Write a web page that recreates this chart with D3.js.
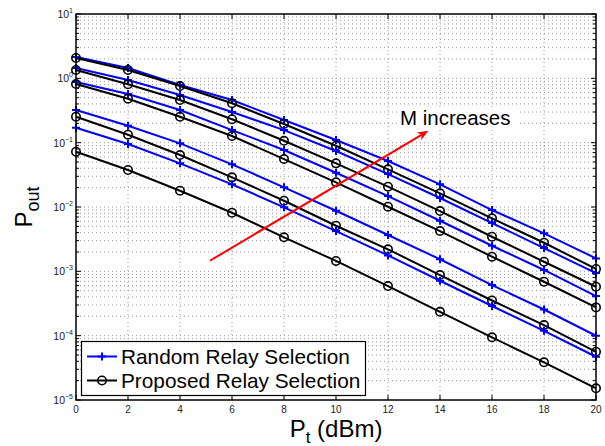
<!DOCTYPE html>
<html>
<head>
<meta charset="utf-8">
<script src="https://cdnjs.cloudflare.com/ajax/libs/d3/7.8.5/d3.min.js"></script>
<style>
body { margin: 0; background: #fff; }
svg { display: block; font-family: "Liberation Sans", Arial, Helvetica, sans-serif; }
</style>
</head>
<body>
<script>
// transmit power (dBm)
var ptValues = [0, 2, 4, 6, 8, 10, 12, 14, 16, 18, 20];

// random relay selection, top curve to bottom curve
var random1 = [2.14, 1.45, 0.787, 0.460, 0.225, 0.110, 0.0518, 0.0225, 8.97e-3, 3.90e-3, 1.59e-3];
var random2 = [1.45, 0.941, 0.550, 0.299, 0.157, 0.0741, 0.0325, 0.0138, 5.63e-3, 2.30e-3, 9.4e-4];
var random3 = [0.876, 0.570, 0.322, 0.157, 0.0768, 0.0341, 0.0148, 6.11e-3, 2.50e-3, 1.05e-3, 4.13e-4];
var random4 = [0.322, 0.183, 0.0977, 0.0461, 0.0202, 8.75e-3, 3.67e-3, 1.54e-3, 6.12e-4, 2.55e-4, 9.97e-5];
var random5 = [0.171, 0.0952, 0.0477, 0.0225, 9.88e-3, 4.23e-3, 1.77e-3, 7.14e-4, 2.89e-4, 1.19e-4, 4.70e-5];

// proposed relay selection, top curve to bottom curve
var proposed1 = [2.07, 1.35, 0.759, 0.409, 0.195, 0.0896, 0.0385, 0.0163, 6.67e-3, 2.78e-3, 1.09e-3];
var proposed2 = [1.35, 0.807, 0.460, 0.231, 0.107, 0.0477, 0.0207, 8.65e-3, 3.45e-3, 1.41e-3, 5.76e-4];
var proposed3 = [0.815, 0.482, 0.253, 0.127, 0.0556, 0.0242, 0.0101, 4.23e-3, 1.69e-3, 6.89e-4, 2.75e-4];
var proposed4 = [0.253, 0.133, 0.0642, 0.0289, 0.0125, 5.11e-3, 2.20e-3, 8.76e-4, 3.52e-4, 1.46e-4, 5.62e-5];
var proposed5 = [0.0723, 0.0376, 0.0179, 8.14e-3, 3.38e-3, 1.45e-3, 5.91e-4, 2.35e-4, 9.42e-5, 3.85e-5, 1.52e-5];

var yExponents = [1, 0, -1, -2, -3, -4, -5];
var legendLabels = ["Random Relay Selection", "Proposed Relay Selection"];

// arrow annotation, in data units
var arrowStart = [5.15, 1.46e-3];
var arrowEnd = [13.55, 0.153];
var annotationText = "M increases";
var annotationPos = [12.46, 0.188];

var width = 605, height = 446;
var margin = {top: 14, right: 9, bottom: 46, left: 76};

var svg = d3.select("body").append("svg")
    .attr("width", width)
    .attr("height", height);

var x = d3.scaleLinear().domain([0, 20]).range([margin.left, width - margin.right]);
var y = d3.scaleLog().domain([1e-5, 10]).range([height - margin.bottom, margin.top]);

var x0 = x.range()[0], x1 = x.range()[1], yb = y.range()[0], yt = y.range()[1];

// minor + major log tick values
var logTicks = [];
for (var k = -5; k <= 0; k++) {
    for (var m = 1; m <= 9; m++) logTicks.push(m * Math.pow(10, k));
}
logTicks.push(10);
var majorTicks = yExponents.map(function (e) { return Math.pow(10, e); });

// grid (dotted)
var grid = svg.append("g").attr("stroke", "#999").attr("stroke-width", 1)
    .attr("stroke-dasharray", "1,3");
grid.selectAll(".gx").data(ptValues.slice(1, -1)).enter().append("line")
    .attr("x1", function (d) { return x(d); }).attr("x2", function (d) { return x(d); })
    .attr("y1", yt).attr("y2", yb);
grid.selectAll(".gy").data(logTicks.slice(1, -1)).enter().append("line")
    .attr("x1", x0).attr("x2", x1)
    .attr("y1", function (d) { return y(d); }).attr("y2", function (d) { return y(d); });

// ticks, drawn inward on all four sides
var ticks = svg.append("g").attr("stroke", "#000").attr("stroke-width", 1);
ptValues.forEach(function (d) {
    ticks.append("line").attr("x1", x(d)).attr("x2", x(d)).attr("y1", yb).attr("y2", yb - 5);
    ticks.append("line").attr("x1", x(d)).attr("x2", x(d)).attr("y1", yt).attr("y2", yt + 5);
});
logTicks.forEach(function (d) {
    var len = majorTicks.indexOf(d) >= 0 ? 5 : 3;
    ticks.append("line").attr("x1", x0).attr("x2", x0 + len).attr("y1", y(d)).attr("y2", y(d));
    ticks.append("line").attr("x1", x1).attr("x2", x1 - len).attr("y1", y(d)).attr("y2", y(d));
});

// x tick labels
svg.append("g").selectAll("text").data(ptValues).enter().append("text")
    .attr("x", function (d) { return x(d); })
    .attr("y", yb + 13)
    .attr("text-anchor", "middle")
    .attr("font-size", 10)
    .attr("fill", "#222")
    .text(function (d) { return d; });

// y tick labels: 10 with superscript
var yLab = svg.append("g").selectAll("text").data(yExponents).enter().append("text")
    .attr("x", x0 - 3)
    .attr("y", function (d) { return y(Math.pow(10, d)) + 4; })
    .attr("text-anchor", "end")
    .attr("fill", "#222");
yLab.append("tspan").attr("font-size", 10.5).text("10");
yLab.append("tspan").attr("font-size", 7).attr("dy", -5)
    .text(function (d) { return d < 0 ? "\u2212" + (-d) : d; });

// curves
var line = d3.line()
    .x(function (d, i) { return x(ptValues[i]); })
    .y(function (d) { return y(d); });

var randomSeries = [random1, random2, random3, random4, random5];
var proposedSeries = [proposed1, proposed2, proposed3, proposed4, proposed5];

var plusPath = "M-4,0H4M0,-4V4";

function drawSeries(series, color, marker) {
    var g = svg.append("g");
    g.append("path").datum(series)
        .attr("d", line)
        .attr("fill", "none")
        .attr("stroke", color)
        .attr("stroke-width", 2);
    var pts = g.selectAll(".pt").data(series).enter();
    if (marker === "plus") {
        pts.append("path")
            .attr("transform", function (d, i) { return "translate(" + x(ptValues[i]) + "," + y(d) + ")"; })
            .attr("d", plusPath)
            .attr("stroke", color).attr("stroke-width", 2);
    } else {
        pts.append("circle")
            .attr("cx", function (d, i) { return x(ptValues[i]); })
            .attr("cy", function (d) { return y(d); })
            .attr("r", 4.2)
            .attr("fill", "none")
            .attr("stroke", color).attr("stroke-width", 1.6);
    }
}

for (var s = 0; s < 5; s++) {
    drawSeries(randomSeries[s], "#0000ff", "plus");
    drawSeries(proposedSeries[s], "#000", "circle");
}

// axes box
svg.append("rect")
    .attr("x", x0).attr("y", yt)
    .attr("width", x1 - x0).attr("height", yb - yt)
    .attr("fill", "none").attr("stroke", "#000").attr("stroke-width", 1.5);

// arrow annotation
var ax0 = x(arrowStart[0]), ay0 = y(arrowStart[1]);
var ax1 = x(arrowEnd[0]), ay1 = y(arrowEnd[1]);
var ang = Math.atan2(ay1 - ay0, ax1 - ax0);
svg.append("line")
    .attr("x1", ax0).attr("y1", ay0)
    .attr("x2", ax1 - 6 * Math.cos(ang)).attr("y2", ay1 - 6 * Math.sin(ang))
    .attr("stroke", "#ff0000").attr("stroke-width", 2);
var hl = 11, hw = 4.5;
function pt(along, side) {
    return [ax1 + along * Math.cos(ang) - side * Math.sin(ang),
            ay1 + along * Math.sin(ang) + side * Math.cos(ang)];
}
svg.append("path")
    .attr("d", "M" + pt(0, 0) + "L" + pt(-hl, hw) + "L" + pt(-hl * 0.7, 0) + "L" + pt(-hl, -hw) + "Z")
    .attr("fill", "#ff0000");

var tx = x(annotationPos[0]), ty = y(annotationPos[1]);
svg.append("rect")
    .attr("x", tx - 3).attr("y", ty - 17)
    .attr("width", 121).attr("height", 22)
    .attr("fill", "#fff");
svg.append("text")
    .attr("x", tx).attr("y", ty)
    .attr("font-size", 20.5)
    .attr("fill", "#000")
    .text(annotationText);

// legend
var legend = svg.append("g");
legend.append("rect")
    .attr("x", 81.5).attr("y", 341.5)
    .attr("width", 284).attr("height", 54)
    .attr("fill", "#fff").attr("stroke", "#000").attr("stroke-width", 1.2);
var legendRows = legend.selectAll(".row").data(legendLabels).enter().append("g")
    .attr("transform", function (d, i) { return "translate(0," + (356.5 + i * 24) + ")"; });
legendRows.append("line")
    .attr("x1", 87).attr("x2", 117).attr("y1", 0).attr("y2", 0)
    .attr("stroke", function (d, i) { return i === 0 ? "#0000ff" : "#000"; })
    .attr("stroke-width", 2);
legendRows.filter(function (d, i) { return i === 0; }).append("path")
    .attr("transform", "translate(102,0)")
    .attr("d", plusPath).attr("stroke", "#0000ff").attr("stroke-width", 2);
legendRows.filter(function (d, i) { return i === 1; }).append("circle")
    .attr("cx", 102).attr("cy", 0).attr("r", 4.2)
    .attr("fill", "none").attr("stroke", "#000").attr("stroke-width", 1.6);
legendRows.append("text")
    .attr("x", 121).attr("y", 7)
    .attr("font-size", 20.8)
    .attr("fill", "#000")
    .text(function (d) { return d; });

// axis labels
var xLabel = svg.append("text")
    .attr("x", (x0 + x1) / 2).attr("y", 437)
    .attr("text-anchor", "middle")
    .attr("font-size", 24)
    .attr("fill", "#000");
xLabel.append("tspan").text("P");
xLabel.append("tspan").attr("font-size", 17).attr("dy", 6).text("t");
xLabel.append("tspan").attr("dy", -6).text(" (dBm)");

var yLabel = svg.append("text")
    .attr("transform", "translate(32," + ((yt + yb) / 2) + ") rotate(-90)")
    .attr("text-anchor", "middle")
    .attr("font-size", 24)
    .attr("fill", "#000");
yLabel.append("tspan").text("P");
yLabel.append("tspan").attr("font-size", 18).attr("dy", 7).text("out");
</script>
</body>
</html>
